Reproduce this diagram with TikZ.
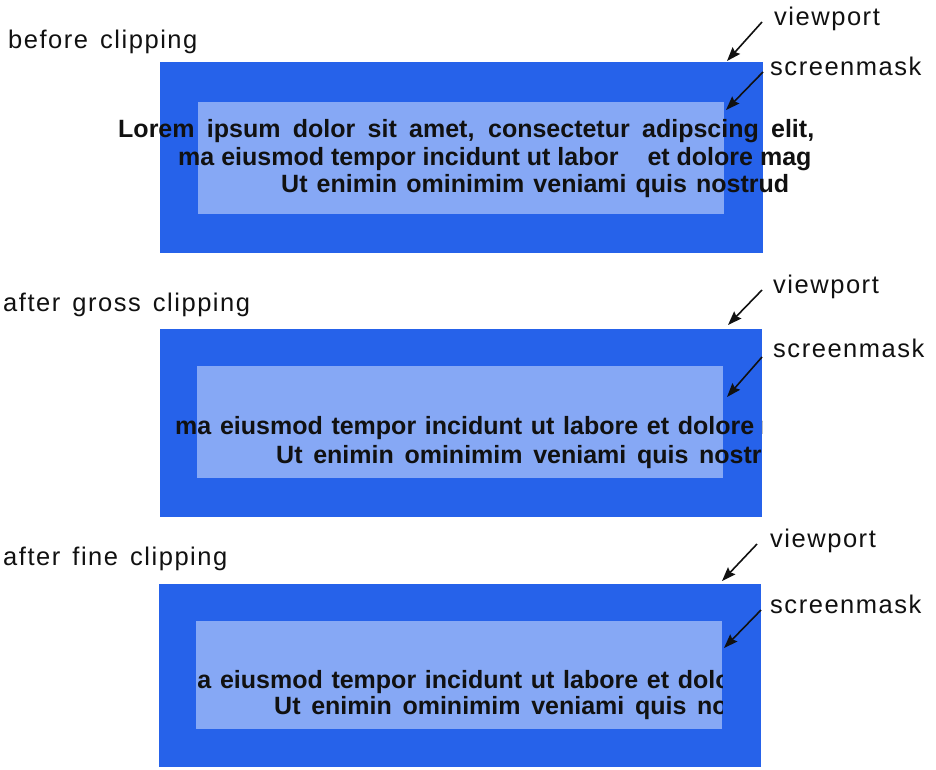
\documentclass[tikz,border=0pt]{standalone}
\usepackage{fontspec}
\setmainfont{Liberation Sans}
\newfontfamily\labelfont[LetterSpace=6,WordSpace=1.4]{Liberation Sans}
\newfontfamily\bodyfont{Liberation Sans}
\usetikzlibrary{arrows.meta}
\definecolor{viewblue}{RGB}{38,98,234}
\definecolor{maskblue}{RGB}{134,168,245}
\definecolor{ink}{RGB}{17,17,17}
\begin{document}
\begin{tikzpicture}[x=1pt,y=-1pt,
  viewport/.style={fill=viewblue, draw=none},
  mask/.style={fill=maskblue, draw=none},
  caption/.style={anchor=base west, inner sep=0pt, font=\labelfont\fontsize{25.5}{30}\selectfont, text=ink},
  tag/.style={caption},
  body/.style={anchor=base west, inner sep=0pt, font=\bodyfont\bfseries\fontsize{25}{30}\selectfont, text=ink},
  pointer/.style={-{Stealth[length=14pt,width=10pt,inset=2pt]}, line width=1.6pt, draw=ink}]
\useasboundingbox (0,0) rectangle (936,769);
\fill[white] (0,0) rectangle (936,769);

% ---- panel 1: before clipping
\fill[viewport] (160,62) rectangle (763,253);
\fill[mask] (198,102) rectangle (724,214);
\node[body] (p1l1) at (118,137) {\makebox[696pt][s]{Lorem ipsum dolor sit amet, consectetur adipscing elit,}};
\node[body] (p1l2) at (178,165) {ma eiusmod tempor incidunt ut labor\hspace{29pt}et dolore mag};
\node[body] (p1l3) at (281,192) {\makebox[508pt][s]{Ut enimin ominimim veniami quis nostrud}};
\node[caption] (cap1) at (8,48) {before clipping};
\node[tag] (vp1) at (774,25) {viewport};
\node[tag] (sm1) at (770,75) {screenmask};
\coordinate (v1s) at (762,22); \coordinate (v1e) at (727,61);
\coordinate (s1s) at (763,72); \coordinate (s1e) at (726,110);
\draw[pointer] (v1s) -- (v1e);
\draw[pointer] (s1s) -- (s1e);

% ---- panel 2: after gross clipping
\fill[viewport] (160,329) rectangle (762,517);
\fill[mask] (197,366) rectangle (723,478);
\begin{scope}
\clip (160,329) rectangle (762,517);
\node[body] (p2l1) at (175,434) {\makebox[579pt][s]{ma eiusmod tempor incidunt ut labore et dolore}\ magna};
\node[body] (p2l2) at (276,463) {\makebox[516pt][s]{Ut enimin ominimim veniami quis nostrud}};
\end{scope}
\node[caption] (cap2) at (3,311) {after gross clipping};
\node[tag] (vp2) at (773,293) {viewport};
\node[tag] (sm2) at (773,357) {screenmask};
\coordinate (v2s) at (762,290); \coordinate (v2e) at (728,325);
\coordinate (s2s) at (762,357); \coordinate (s2e) at (727,397);
\draw[pointer] (v2s) -- (v2e);
\draw[pointer] (s2s) -- (s2e);

% ---- panel 3: after fine clipping
\fill[viewport] (159,584) rectangle (761,767);
\fill[mask] (196,621) rectangle (722,729);
\begin{scope}
\clip (196,621) rectangle (722,729);
\node[body] (p3l1) at (175,688) {\makebox[579pt][s]{ma eiusmod tempor incidunt ut labore et dolore}\ magna};
\node[body] (p3l2) at (274,714) {\makebox[516pt][s]{Ut enimin ominimim veniami quis nostrud}};
\end{scope}
\node[caption] (cap3) at (3,565) {after fine clipping};
\node[tag] (vp3) at (770,547) {viewport};
\node[tag] (sm3) at (770,613) {screenmask};
\coordinate (v3s) at (757,544); \coordinate (v3e) at (722,581);
\coordinate (s3s) at (761,610); \coordinate (s3e) at (724,648);
\draw[pointer] (v3s) -- (v3e);
\draw[pointer] (s3s) -- (s3e);
\end{tikzpicture}
\end{document}
